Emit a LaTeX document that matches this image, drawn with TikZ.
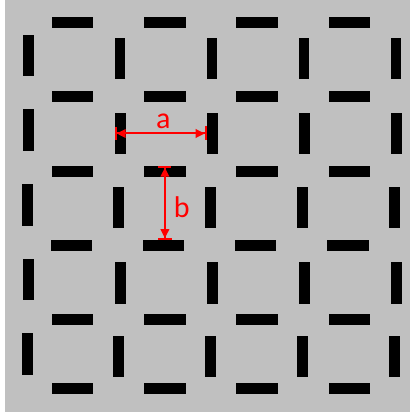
\documentclass[tikz,border=0pt]{standalone}
\usepackage{fontspec}
\setmainfont{Carlito}
\usetikzlibrary{arrows.meta,positioning}
\definecolor{panelgray}{RGB}{192,192,192}
\definecolor{dimred}{RGB}{255,0,0}
\begin{document}
\begin{tikzpicture}[x=1pt, y=-1pt,
		hbar/.style={fill=black, rectangle, inner sep=0pt, minimum width=41.3pt, minimum height=10.7pt},
		vbar/.style={fill=black, rectangle, inner sep=0pt, minimum width=10.7pt, minimum height=41.3pt},
		dimline/.style={dimred, line width=2pt, {Bar[width=13pt,sep=0pt]Triangle[length=9pt,width=8.5pt,sep=0pt]}-{Triangle[length=9pt,width=8.5pt,sep=0pt]Bar[width=14pt,sep=0pt]}},
		dimlabel/.style={text=dimred, inner sep=0pt, font=\fontsize{30}{34}\selectfont}]
		\useasboundingbox (0,0) rectangle (410,414);
		\fill[panelgray] (5,0) rectangle (410,411.5);
		\foreach \r/\y/\dx in {1/22.3/0, 2/96.5/0, 3/171.2/0, 4/245.7/-1.3, 5/319.8/0, 6/388.8/0}
			\foreach \c in {1,...,4}
				\node[hbar] (h\r\c) at ({72.7+92.2*(\c-1)+\dx},\y) {};
		\foreach \r/\xa/\ya/\xb/\yb in {A/28.7/55.8/120.1/58.8, B/28.7/130/120.2/133.5, C/27.2/205/118.2/207.5, D/28.7/279.5/120.2/283, E/27.2/354/118.2/356.8} {
			\node[vbar] (v\r1) at (\xa,\ya) {};
			\foreach \c in {2,...,5}
				\node[vbar] (v\r\c) at ({\xb+92*(\c-2)},\yb) {};
		}
		\draw[dimline] (vB2.west) -- (vB3.west) node[dimlabel, pos=0.53, above=3.5pt] (la) {a};
		\draw[dimline] (h32.north) -- (h32.north |- h42.north) node[dimlabel, pos=0.56, right=8pt] (lb) {b};
\end{tikzpicture}
\end{document}
